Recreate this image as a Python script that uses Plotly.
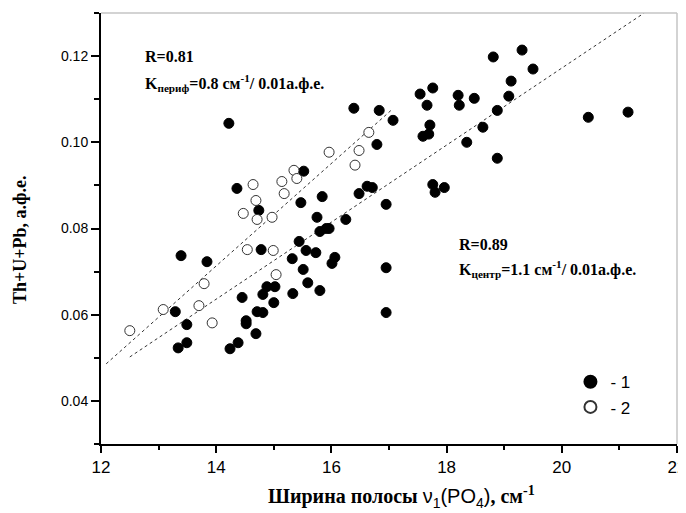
import plotly.graph_objects as go

# ---- data ----
# series 1 (filled circles)
x1 = [14.22, 19.31, 18.81, 19.50, 19.12, 19.08, 18.88, 20.46, 21.15, 18.88,
      17.54, 17.76, 17.66, 18.20, 18.22, 18.48, 17.71, 17.59, 17.69, 18.35,
      18.63, 16.39, 16.83, 17.07, 16.79, 15.52, 14.36, 15.47, 15.84, 14.74,
      15.75, 15.80, 15.91, 15.96, 16.25, 15.44, 14.78, 13.39, 13.84, 15.32,
      15.56, 15.73, 16.06, 16.01, 15.51, 15.59, 15.80, 15.33, 14.88, 15.02,
      14.81, 14.45, 15.00, 14.71, 14.81, 13.29, 13.49, 14.52, 14.52, 14.69,
      14.38, 13.49, 13.34, 14.24, 16.95, 16.95, 16.95, 17.76, 17.80, 17.96,
      16.62, 16.71, 16.48]
y1 = [0.1044, 0.1214, 0.1198, 0.1170, 0.1142, 0.1107, 0.1074, 0.1058, 0.1070, 0.0963,
      0.1112, 0.1126, 0.1086, 0.1109, 0.1086, 0.1102, 0.1040, 0.1014, 0.1019, 0.1000,
      0.1035, 0.1079, 0.1074, 0.1051, 0.0995, 0.0933, 0.0893, 0.0860, 0.0874, 0.0842,
      0.0826, 0.0793, 0.0800, 0.0800, 0.0821, 0.0770, 0.0751, 0.0737, 0.0723, 0.0730,
      0.0749, 0.0744, 0.0733, 0.0719, 0.0705, 0.0674, 0.0656, 0.0649, 0.0665, 0.0665,
      0.0647, 0.0640, 0.0628, 0.0607, 0.0605, 0.0607, 0.0577, 0.0586, 0.0579, 0.0556,
      0.0535, 0.0535, 0.0523, 0.0521, 0.0856, 0.0709, 0.0605, 0.0902, 0.0884, 0.0895,
      0.0898, 0.0895, 0.0881]

# series 2 (open circles)
x2 = [15.35, 15.40, 15.14, 14.64, 15.18, 14.69, 14.47, 14.71, 14.97, 14.54,
      14.99, 15.04, 13.79, 13.08, 13.70, 13.93, 12.50, 16.65, 15.96, 16.48,
      16.41]
y2 = [0.0935, 0.0916, 0.0909, 0.0902, 0.0881, 0.0865, 0.0835, 0.0821, 0.0826, 0.0751,
      0.0749, 0.0693, 0.0672, 0.0612, 0.0621, 0.0581, 0.0563, 0.1023, 0.0977, 0.0981,
      0.0947]

# fitted lines (end points)
fit_periph_x = [12.09, 17.06]
fit_periph_y = [0.0486, 0.1077]
fit_centr_x = [12.50, 21.43]
fit_centr_y = [0.0502, 0.1300]

x_ticks = [12, 14, 16, 18, 20, 22]
y_ticks = [0.04, 0.06, 0.08, 0.10, 0.12]

serif = "Liberation Serif"
sans = "Liberation Sans"

fig = go.Figure()

fig.add_trace(go.Scatter(x=fit_periph_x, y=fit_periph_y, mode="lines",
                         line=dict(color="#333333", width=1, dash="3px,3px"),
                         showlegend=False, hoverinfo="skip"))
fig.add_trace(go.Scatter(x=fit_centr_x, y=fit_centr_y, mode="lines",
                         line=dict(color="#333333", width=1, dash="3px,3px"),
                         showlegend=False, hoverinfo="skip"))

fig.add_trace(go.Scatter(x=x1, y=y1, mode="markers", name="- 1",
                         marker=dict(symbol="circle", size=10, color="black",
                                     line=dict(color="black", width=1))))
fig.add_trace(go.Scatter(x=x2, y=y2, mode="markers", name="- 2",
                         marker=dict(symbol="circle", size=10, color="white",
                                     line=dict(color="#333333", width=1))))

# the page body has an 8px margin, so the figure is 8px smaller and margins shifted
fig.update_layout(
    width=678, height=505,
    margin=dict(l=93, r=9, t=5, b=69),
    plot_bgcolor="white", paper_bgcolor="white",
    showlegend=True,
    legend=dict(x=0.815, y=0.185, xanchor="left", yanchor="top",
                font=dict(family=sans, size=17, color="black"),
                bgcolor="rgba(0,0,0,0)", borderwidth=0,
                itemsizing="constant", tracegroupgap=0),
    xaxis=dict(range=[12, 22], tickvals=x_ticks, ticktext=[str(v) for v in x_ticks],
               showgrid=False, zeroline=False, showline=True, linecolor="black", linewidth=2,
               ticks="outside", ticklen=7, tickwidth=1.5, tickcolor="black",
               ticklabeloverflow="allow", automargin=False,
               tickfont=dict(family=sans, size=17, color="black"),
               minor=dict(dtick=1, tick0=12, ticks="outside", ticklen=4, tickwidth=1.5,
                          tickcolor="black", showgrid=False)),
    yaxis=dict(range=[0.03, 0.13], tickvals=y_ticks, ticktext=["%.2f" % v for v in y_ticks],
               showgrid=False, zeroline=False, showline=True, linecolor="black", linewidth=2,
               ticks="outside", ticklen=8, tickwidth=1.5, tickcolor="black",
               tickfont=dict(family=sans, size=14, color="black"),
               minor=dict(dtick=0.01, tick0=0.03, ticks="outside", ticklen=5, tickwidth=1.5,
                          tickcolor="black", showgrid=False)),
)

# light grey frame on top and right
fig.add_shape(type="line", xref="paper", yref="paper", x0=0, x1=1, y0=1, y1=1,
              line=dict(color="#c4c4c4", width=1.5))
fig.add_shape(type="line", xref="paper", yref="paper", x0=1, x1=1, y0=0, y1=1,
              line=dict(color="#c4c4c4", width=1.5))

# text annotations
fig.add_annotation(x=12.73, y=0.1200, xref="x", yref="y", xanchor="left", yanchor="middle",
                   text="<b>R=0.81</b>", showarrow=False,
                   font=dict(family=serif, size=16, color="black"))
fig.add_annotation(x=12.73, y=0.1137, xref="x", yref="y", xanchor="left", yanchor="middle",
                   text="<b>K<sub>периф</sub>=0.8 см<sup>-1</sup>/ 0.01а.ф.е.</b>", showarrow=False,
                   font=dict(family=serif, size=16, color="black"))
fig.add_annotation(x=18.18, y=0.0763, xref="x", yref="y", xanchor="left", yanchor="middle",
                   text="<b>R=0.89</b>", showarrow=False,
                   font=dict(family=serif, size=16, color="black"))
fig.add_annotation(x=18.18, y=0.0705, xref="x", yref="y", xanchor="left", yanchor="middle",
                   text="<b>K<sub>центр</sub>=1.1 см<sup>-1</sup>/ 0.01а.ф.е.</b>", showarrow=False,
                   font=dict(family=serif, size=16, color="black"))

# axis titles
fig.add_annotation(x=(401 - 101) / 576, y=-(497 - 444) / 431, xref="paper", yref="paper",
                   xanchor="center", yanchor="middle", showarrow=False,
                   text=("<b>Ширина полосы </b>"
                         "<span style='font-family:Liberation Sans'>ν<sub>1</sub>(PO<sub>4</sub>)</span>"
                         "<b>, см<sup>-1</sup></b>"),
                   font=dict(family=serif, size=20, color="black"))
fig.add_annotation(x=-(101 - 20) / 576, y=(444 - 240) / 431, xref="paper", yref="paper",
                   xanchor="center", yanchor="middle", showarrow=False, textangle=-90,
                   text="<b>Th+U+Pb, а.ф.е.</b>",
                   font=dict(family=serif, size=18, color="black"))

fig.write_html("out.html")
